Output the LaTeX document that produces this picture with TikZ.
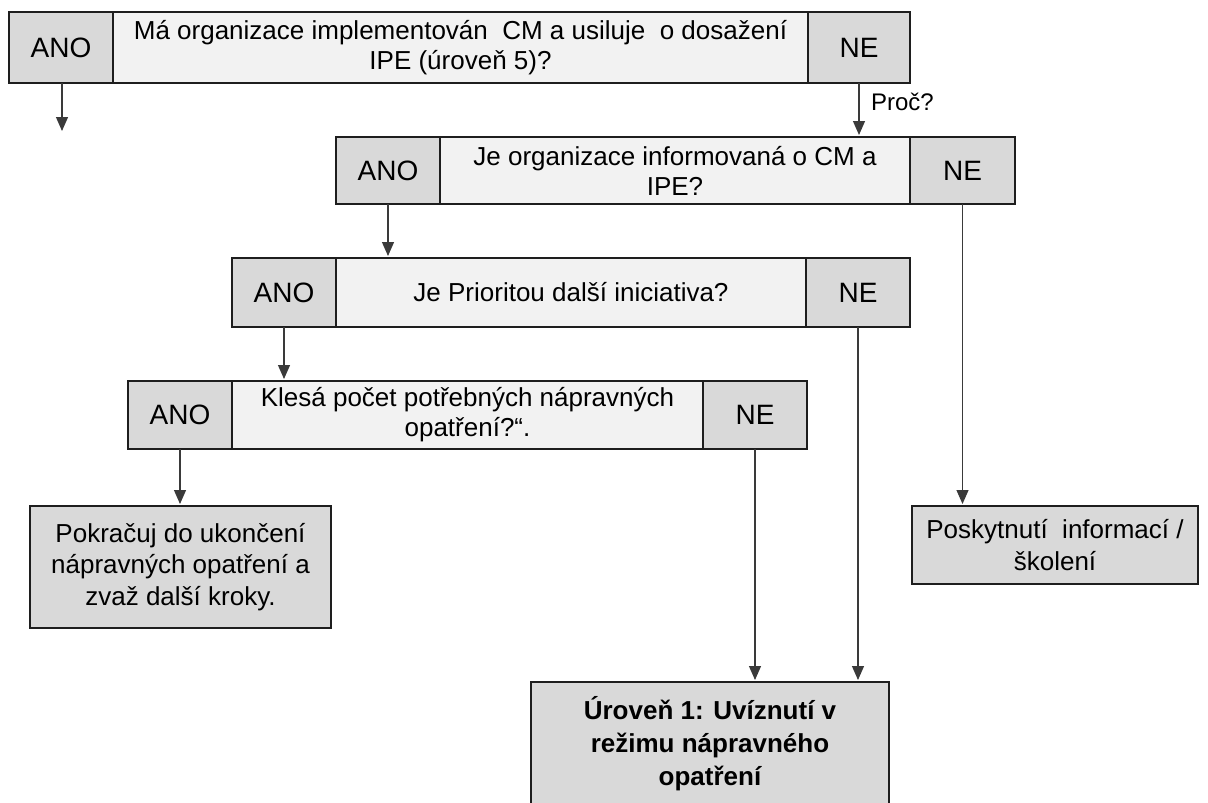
\documentclass[tikz,border=0pt]{standalone}
\usepackage{fontspec}
\setmainfont{Liberation Sans}
\usetikzlibrary{arrows.meta}
\definecolor{boxgray}{HTML}{D9D9D9}
\definecolor{boxlight}{HTML}{F2F2F2}
\definecolor{edge}{HTML}{1E1E1E}
\definecolor{wire}{HTML}{3A3A3A}
\begin{document}
\begin{tikzpicture}[x=1pt,y=-1pt,
  every node/.style={font=\fontsize{26}{30}\selectfont, inner sep=0pt, outer sep=0pt, text=black},
  base/.style={draw=edge, line width=2.4pt, rectangle, align=center},
  answer/.style={base, fill=boxgray, font=\fontsize{28}{32}\selectfont},
  question/.style={base, fill=boxlight},
  outcome/.style={base, fill=boxgray},
  conn/.style={wire, line width=1.2pt, -{Triangle[width=12pt,length=14pt]}, shorten >=2pt}
]
\useasboundingbox (0,0) rectangle (1208,803);
\clip (0,0) rectangle (1208,803);
\fill[white] (0,0) rectangle (1208,803);

% row 1
\node[answer,   minimum width=104pt, minimum height=71pt] (ano1) at (61,47.5) {ANO};
\node[question, minimum width=695pt, minimum height=71pt] (q1) at (460.5,47.5)
  {Má organizace implementován\ \ CM a usiluje\ \ o dosažení\\IPE (úroveň 5)?};
\node[answer,   minimum width=102pt, minimum height=71pt] (ne1) at (859,47.5) {NE};

% row 2
\node[answer,   minimum width=104pt, minimum height=67pt] (ano2) at (388,170.5) {ANO};
\node[question, minimum width=470pt, minimum height=67pt] (q2) at (675,170.5)
  {Je organizace informovaná o CM a\\IPE?};
\node[answer,   minimum width=105pt, minimum height=67pt] (ne2) at (962.5,170.5) {NE};

% row 3
\node[answer,   minimum width=104pt, minimum height=69pt] (ano3) at (284,292.5) {ANO};
\node[question, minimum width=470pt, minimum height=69pt] (q3) at (571,292.5)
  {Je Prioritou další iniciativa?};
\node[answer,   minimum width=104pt, minimum height=69pt] (ne3) at (858,292.5) {NE};

% row 4
\node[answer,   minimum width=104pt, minimum height=68pt] (ano4) at (180,415) {ANO};
\node[question, minimum width=471pt, minimum height=68pt] (q4) at (467.5,415)
  {Klesá počet potřebných nápravných\\opatření?“.};
\node[answer,   minimum width=104pt, minimum height=68pt] (ne4) at (755,415) {NE};

% outcomes
\node[outcome, minimum width=301pt, minimum height=122pt,
      font=\fontsize{26}{31.5}\selectfont] (cont) at (180.5,567)
  {Pokračuj do ukončení\\nápravných opatření a\\zvaž další kroky.};
\node[outcome, minimum width=286pt, minimum height=78pt,
      font=\fontsize{26}{32}\selectfont] (info) at (1055,545)
  {Poskytnutí\ \ informací /\\školení};
\node[outcome, minimum width=358pt, minimum height=124pt,
      font=\bfseries\fontsize{26}{33}\selectfont] (lvl) at (710,744)
  {Úroveň 1: Uvíznutí v\\režimu nápravného\\opatření};

% connectors
\coordinate (yesend) at (62,133);
\draw[conn] (ano1.south -| yesend) -- (yesend);
\draw[conn] (ne1.south) -- (ne1.south |- q2.north)
  node[pos=0.35, right=12pt, anchor=west, font=\fontsize{24}{28}\selectfont] (why) {Proč?};
\draw[conn] (ano2.south) -- (ano2.south |- q3.north);
\draw[conn] (ano3.south) -- (ano3.south |- q4.north);
\draw[conn] (ano4.south) -- (ano4.south |- cont.north);
\draw[conn] (ne2.south) -- (ne2.south |- info.north);
\draw[conn] (ne3.south) -- (ne3.south |- lvl.north);
\draw[conn] (ne4.south) -- (ne4.south |- lvl.north);
\end{tikzpicture}
\end{document}
